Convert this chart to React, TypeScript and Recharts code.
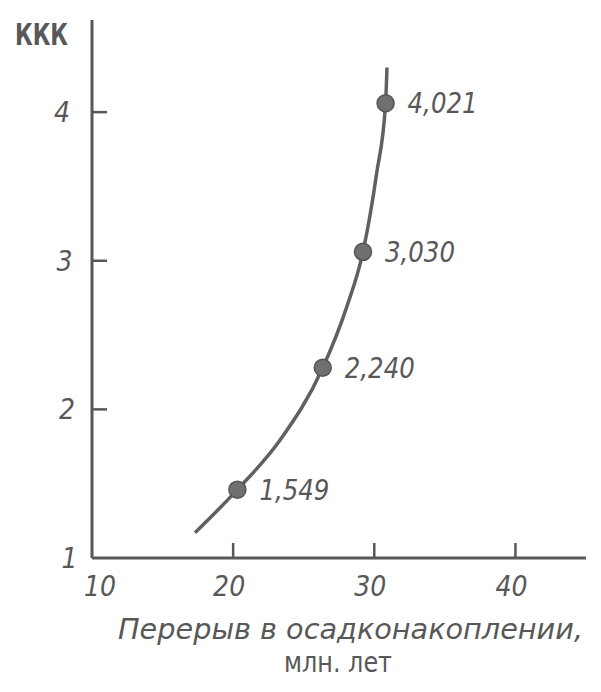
import React from "react";
import {
  ComposedChart,
  Line,
  Scatter,
  XAxis,
  YAxis,
  LabelList,
  Label,
} from "recharts";

// break in sedimentation (Myr) vs KKK, points as plotted
const measured = [
  { x: 20.3, y: 1.46, label: "1,549" },
  { x: 26.35, y: 2.28, label: "2,240" },
  { x: 29.2, y: 3.06, label: "3,030" },
  { x: 30.8, y: 4.06, label: "4,021" },
];

// hand-drawn curve through the points
const curve = [
  { x: 17.3, y: 1.17 },
  { x: 20.3, y: 1.46 },
  { x: 23.3, y: 1.79 },
  { x: 26.35, y: 2.28 },
  { x: 28.05, y: 2.69 },
  { x: 29.2, y: 3.06 },
  { x: 30.17, y: 3.59 },
  { x: 30.8, y: 4.06 },
  { x: 30.9, y: 4.3 },
];

const xTicks = [10, 20, 30, 40];
const yTicks = [1, 2, 3, 4];

const INK = "#585858";
const FONT = "'DejaVu Sans Condensed', 'DejaVu Sans', sans-serif";

function XTick(props: any) {
  const { x, y, payload } = props;
  const v = payload.value;
  return (
    <g>
      {v !== 10 && <line x1={x} y1={y} x2={x} y2={y - 15} stroke={INK} strokeWidth={2.5} />}
      <text
        x={x + (v === 10 ? 8 : -4)}
        y={y + 38}
        textAnchor="middle"
        fill={INK}
        fontFamily={FONT}
        fontStyle="italic"
        fontSize={28}
      >
        {v}
      </text>
    </g>
  );
}

function YTick(props: any) {
  const { x, y, payload } = props;
  const v = payload.value;
  return (
    <g>
      {v !== 1 && <line x1={x} y1={y} x2={x + 15} y2={y} stroke={INK} strokeWidth={2.5} />}
      <text
        x={x - 22 + (v - 4) * -2.5}
        y={y + 10}
        textAnchor="end"
        fill={INK}
        fontFamily={FONT}
        fontStyle="italic"
        fontSize={28}
      >
        {v}
      </text>
    </g>
  );
}

function Dot(props: any) {
  const { cx, cy } = props;
  return <circle cx={cx} cy={cy} r={8.5} fill="#707070" stroke="#555" strokeWidth={1.5} />;
}

function PointLabel(props: any) {
  const { x, y, width, height, value } = props;
  const cx = x + (width || 0) / 2;
  const cy = y + (height || 0) / 2;
  return (
    <text
      x={cx + 22}
      y={cy + 10}
      fill={INK}
      fontFamily={FONT}
      fontStyle="italic"
      fontSize={28}
      textLength={70}
      lengthAdjust="spacingAndGlyphs"
    >
      {value}
    </text>
  );
}

function YTitle(props: any) {
  const vb = props.viewBox;
  return (
    <text
      x={vb.x + vb.width - 77}
      y={vb.y + 25}
      fill={INK}
      fontFamily={FONT}
      fontSize={30}
      fontWeight="bold"
      textLength={53}
      lengthAdjust="spacingAndGlyphs"
    >
      ККК
    </text>
  );
}

function XTitle(props: any) {
  const vb = props.viewBox;
  return (
    <g fill={INK} fontFamily={FONT}>
      <text
        x={vb.x + 26}
        y={vb.y + 81}
        fontStyle="italic"
        fontSize={29}
        textLength={465}
        lengthAdjust="spacingAndGlyphs"
      >
        Перерыв в осадконакоплении,
      </text>
      <text
        x={vb.x + 192}
        y={vb.y + 114}
        fontSize={28}
        textLength={108}
        lengthAdjust="spacingAndGlyphs"
      >
        млн. лет
      </text>
    </g>
  );
}

export default function App() {
  return (
    <div style={{ position: "absolute", left: 0, top: 0, width: 601, height: 692, background: "#fff" }}>
      <ComposedChart
        width={601}
        height={692}
        margin={{ top: 20, right: 15, left: 32, bottom: 104 }}
      >
        <XAxis
          type="number"
          dataKey="x"
          domain={[10, 45]}
          ticks={xTicks}
          height={30}
          tickSize={0}
          tickMargin={0}
          tickLine={false}
          axisLine={{ stroke: INK, strokeWidth: 3 }}
          tick={<XTick />}
          allowDataOverflow
        >
          <Label content={<XTitle />} />
        </XAxis>
        <YAxis
          type="number"
          dataKey="y"
          domain={[1, 4.62]}
          ticks={yTicks}
          width={60}
          tickSize={0}
          tickMargin={0}
          tickLine={false}
          axisLine={{ stroke: INK, strokeWidth: 3 }}
          tick={<YTick />}
          allowDataOverflow
        >
          <Label content={<YTitle />} />
        </YAxis>
        <Line
          data={curve}
          dataKey="y"
          type="monotone"
          stroke="#606060"
          strokeWidth={3.5}
          dot={false}
          activeDot={false}
          isAnimationActive={false}
        />
        <Scatter data={measured} dataKey="y" shape={<Dot />} isAnimationActive={false}>
          <LabelList dataKey="label" content={<PointLabel />} />
        </Scatter>
      </ComposedChart>
    </div>
  );
}
